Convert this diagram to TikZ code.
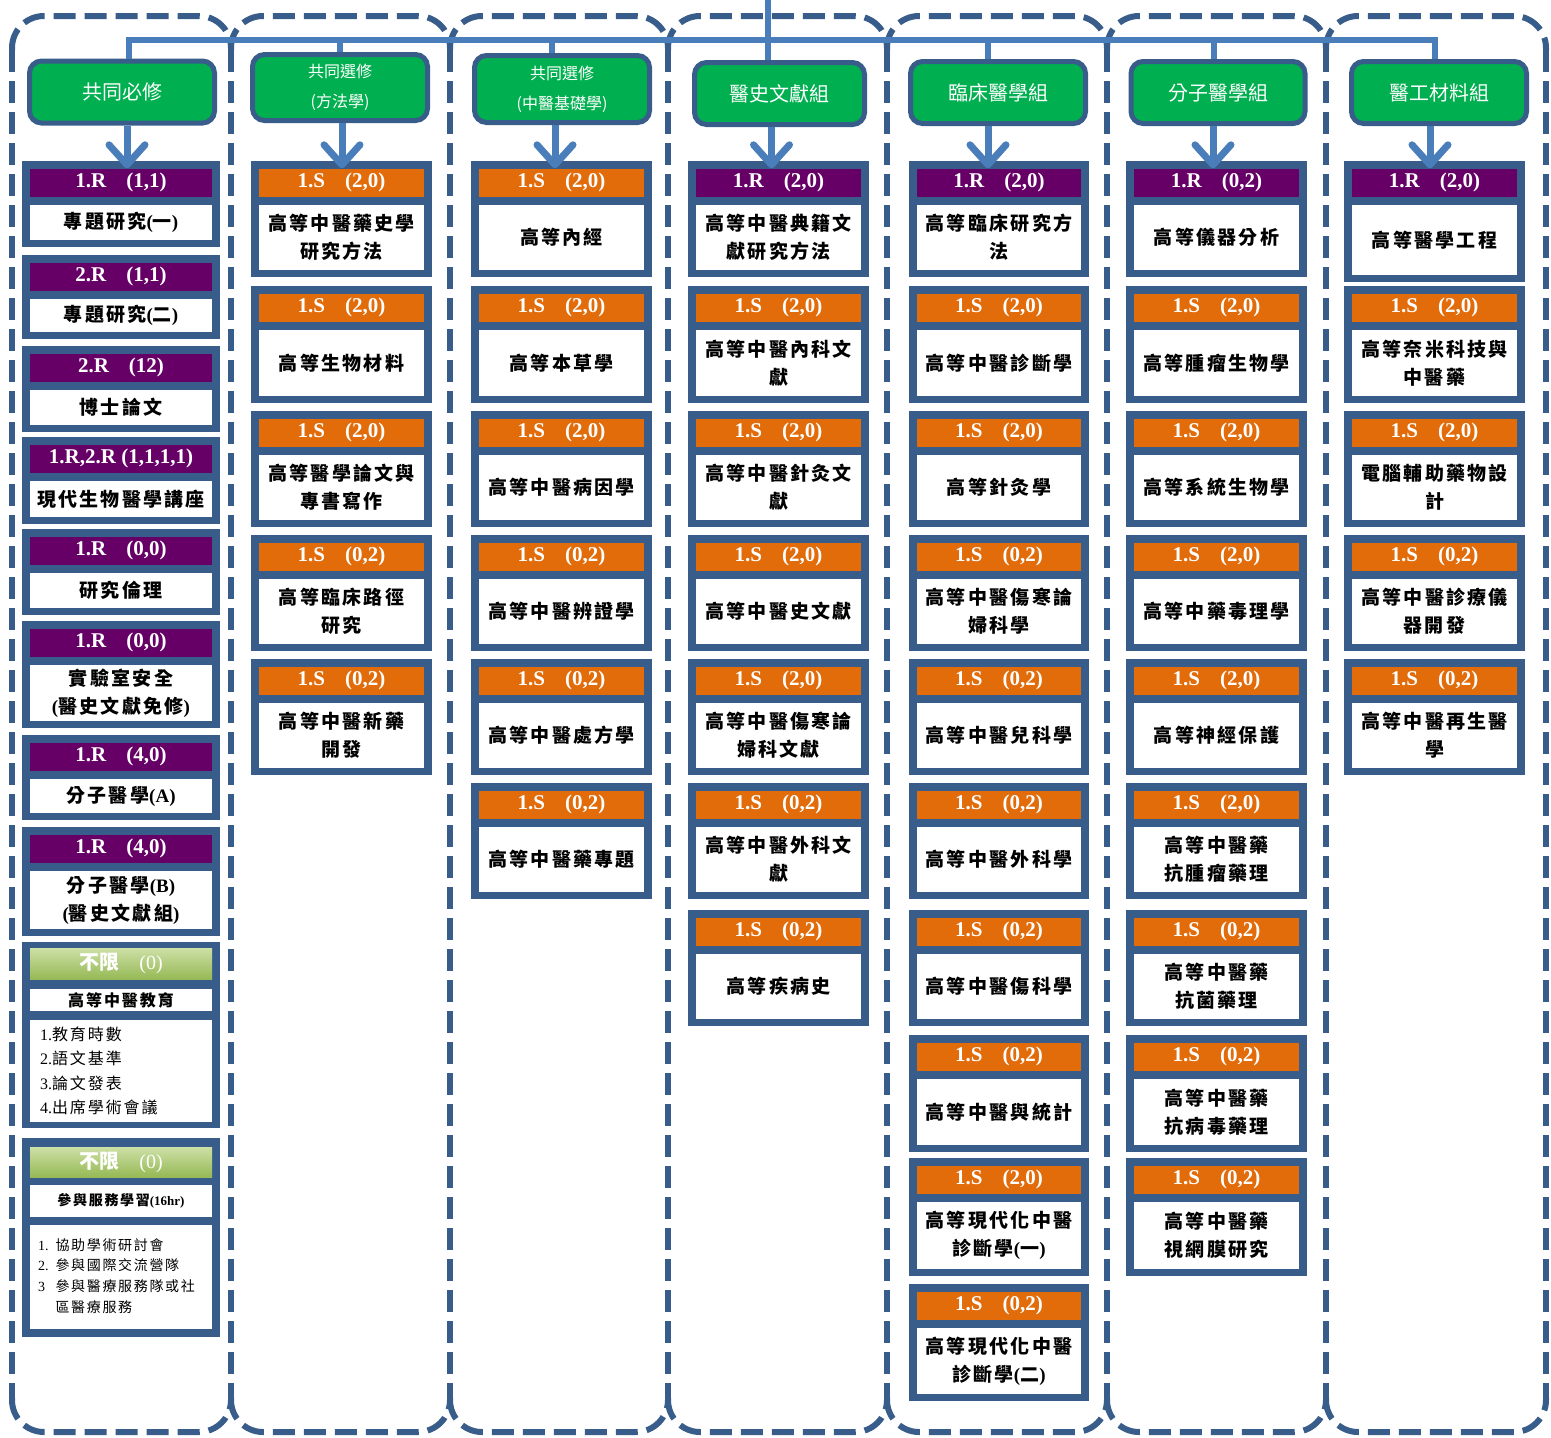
\documentclass[tikz,border=0pt]{standalone}
\usepackage{fontspec}
\setmainfont{Liberation Serif}
\newfontfamily\cjk[LetterSpace=12]{Noto Sans CJK TC}
\newfontfamily\cjkh{Noto Sans CJK TC}
\usetikzlibrary{arrows.meta}
\definecolor{navy}{RGB}{56,93,138}
\definecolor{busblue}{RGB}{74,126,187}
\definecolor{hgreen}{RGB}{0,176,80}
\definecolor{rpurple}{RGB}{102,0,102}
\definecolor{sorange}{RGB}{226,107,10}
\definecolor{glight}{RGB}{205,224,166}
\definecolor{gdark}{RGB}{150,185,85}
\newcommand{\cgap}{\hspace{20pt}}
\newcommand{\lat}[1]{{\rmfamily #1}}
\tikzset{
	lane/.style={draw=navy,line width=6pt,dash pattern=on 22pt off 9pt,rounded corners=32pt},
	bus/.style={draw=busblue,line width=6pt},
	flow/.style={draw=busblue,line width=7pt,-{Straight Barb[length=20pt,width=36pt,round]}},
	hdr/.style 2 args={rectangle,rounded corners=12pt,fill=hgreen,draw=navy,line width=5pt,text=white,inner sep=0pt,align=center,minimum width=#1,minimum height=#2,font=\cjkh\fontsize{20}{24}\selectfont},
	hdrtwo/.style={font=\cjkh\fontsize{16}{30}\selectfont},
	cframe/.style={rectangle,fill=navy,inner sep=0pt},
	rbar/.style={rectangle,fill=rpurple,text=white,inner sep=0pt,font=\bfseries\fontsize{21}{24}\selectfont},
	sbar/.style={rbar,fill=sorange},
	gbar/.style={rectangle,top color=glight,bottom color=gdark,text=white,inner sep=0pt,font=\fontsize{20}{24}\selectfont},
	body/.style={rectangle,fill=white,inner sep=0pt,align=center,font=\cjk\bfseries\fontsize{19}{28}\selectfont},
	lst/.style={inner sep=0pt,align=left,anchor=west}
}
% one course card: name, left, right, top, bottom, bar style, bar text, title
\newcommand{\course}[8]{%
	\node[cframe,minimum width={#3-#2},minimum height={#5-#4}] (#1) at ({(#2+#3)/2},{(#4+#5)/2}) {};
	\node[#6,minimum width={#3-#2-16},minimum height=28] (#1-bar) at ({(#2+#3)/2},{#4+21.5}) {#7};
	\node[body,minimum width={#3-#2-16},minimum height={#5-#4-51}] (#1-body) at ({(#2+#3)/2},{(#4+#5+37)/2}) {#8};
}

\begin{document}
\begin{tikzpicture}[x=1pt,y=-1pt]
	\useasboundingbox (0,0) rectangle (1551,1438);

	% dashed lanes
	\draw[lane] (12,50) |- (231,16) -- (231,50) (231,50) |- (450,16) -- (450,50) (450,50) |- (668,16) -- (668,50)
		(668,50) |- (887,16) -- (887,50) (887,50) |- (1107,16) -- (1107,50) (1107,50) |- (1326,16) -- (1326,50) (1326,50) |- (1546,16) -- (1546,50);
	\draw[lane] (12,1398) |- (231,1432) -- (231,1398) (231,1398) |- (450,1432) -- (450,1398) (450,1398) |- (668,1432) -- (668,1398)
		(668,1398) |- (887,1432) -- (887,1398) (887,1398) |- (1107,1432) -- (1107,1398) (1107,1398) |- (1326,1432) -- (1326,1398) (1326,1398) |- (1546,1432) -- (1546,1398);
	\draw[lane] (12,50) -- (12,1398) (231,50) -- (231,1398) (450,50) -- (450,1398) (668,50) -- (668,1398)
		(887,50) -- (887,1398) (1107,50) -- (1107,1398) (1326,50) -- (1326,1398) (1546,50) -- (1546,1398);

	% group headers
	\node[hdr={185pt}{62pt}] (hd1) at (122,92) {共同必修};
	\node[hdr={175pt}{66pt},hdrtwo] (hd2) at (340,87.5) {共同選修\\(方法學)};
	\node[hdr={175pt}{67pt},hdrtwo] (hd3) at (562,89) {共同選修\\(中醫基礎學)};
	\node[hdr={170pt}{62pt}] (hd4) at (779.5,93.5) {醫史文獻組};
	\node[hdr={175pt}{62pt}] (hd5) at (998,92.5) {臨床醫學組};
	\node[hdr={174pt}{62pt}] (hd6) at (1218,92.5) {分子醫學組};
	\node[hdr={175pt}{62pt}] (hd7) at (1439,92.5) {醫工材料組};

	% bus
	\coordinate (b1) at (129,40);
	\coordinate (b2) at (340,40);
	\coordinate (b3) at (552,40);
	\coordinate (b5) at (988,40);
	\coordinate (b6) at (1214,40);
	\coordinate (b7) at (1435,40);
	\coordinate (feed) at (768,0);
	\draw[bus] (b1 |- hd1.north) -- (b1) -- (b7) -- (b7 |- hd7.north);
	\draw[bus] (b2) -- (b2 |- hd2.north);
	\draw[bus] (b3) -- (b3 |- hd3.north);
	\draw[bus] (feed) -- (feed |- hd4.north);
	\draw[bus] (b5) -- (b5 |- hd5.north);
	\draw[bus] (b6) -- (b6 |- hd6.north);

	% column 1
	\course{c1a}{22}{220}{161}{247}{rbar}{1.R\cgap(1,1)}{專題研究\lat{(}一\lat{)}}
	\course{c1b}{22}{220}{255}{339}{rbar}{2.R\cgap(1,1)}{專題研究\lat{(}二\lat{)}}
	\course{c1c}{22}{220}{346}{432}{rbar}{2.R\cgap(12)}{博士論文}
	\course{c1d}{22}{220}{437}{524}{rbar}{1.R,2.R (1,1,1,1)}{現代生物醫學講座}
	\course{c1e}{22}{220}{529}{615}{rbar}{1.R\cgap(0,0)}{研究倫理}
	\course{c1f}{22}{220}{621}{728}{rbar}{1.R\cgap(0,0)}{實驗室安全\\\lat{(}醫史文獻免修\lat{)}}
	\course{c1g}{22}{220}{735}{820}{rbar}{1.R\cgap(4,0)}{分子醫學\lat{(A)}}
	\course{c1h}{22}{220}{827}{936}{rbar}{1.R\cgap(4,0)}{分子醫學\lat{(B)}\\\lat{(}醫史文獻組\lat{)}}

	\node[cframe,minimum width=198,minimum height=186] (c1i) at (121,1035) {};
	\node[gbar,minimum width=182,minimum height=31] (c1i-bar) at (121,963.5) {{\cjkh\bfseries 不限}\cgap(0)};
	\node[body,minimum width=182,minimum height=22,font=\cjk\bfseries\fontsize{16}{20}\selectfont] (c1i-body) at (121,1000) {高等中醫教育};
	\node[body,minimum width=182,minimum height=102] (c1i-list) at (121,1071) {};
	\node[lst,font=\cjk\fontsize{16}{24.5}\selectfont] (edulist) at ([xshift=10pt]c1i-list.west)
		{\lat{1.}教育時數\\\lat{2.}語文基準\\\lat{3.}論文發表\\\lat{4.}出席學術會議};

	\node[cframe,minimum width=198,minimum height=199] (c1j) at (121,1237.5) {};
	\node[gbar,minimum width=182,minimum height=30] (c1j-bar) at (121,1162) {{\cjkh\bfseries 不限}\cgap(0)};
	\node[body,minimum width=182,minimum height=32,font=\cjk\bfseries\fontsize{14}{18}\selectfont] (c1j-body) at (121,1201) {參與服務學習{\rmfamily\fontsize{13}{16}\selectfont(16hr)}};
	\node[body,minimum width=182,minimum height=104] (c1j-list) at (121,1277) {};
	\node[lst,font=\cjk\fontsize{14}{20.7}\selectfont] (servlist) at ([xshift=8pt]c1j-list.west)
		{\begin{tabular}{@{}l@{\hspace{7pt}}l@{}}\lat{1.} & 協助學術研討會\\ \lat{2.} & 參與國際交流營隊\\ \lat{3} & 參與醫療服務隊或社\\ & 區醫療服務\end{tabular}};

	% column 2
	\course{c2a}{251}{432}{161}{277}{sbar}{1.S\cgap(2,0)}{高等中醫藥史學\\研究方法}
	\course{c2b}{251}{432}{286}{403}{sbar}{1.S\cgap(2,0)}{高等生物材料}
	\course{c2c}{251}{432}{411}{527}{sbar}{1.S\cgap(2,0)}{高等醫學論文與\\專書寫作}
	\course{c2d}{251}{432}{535}{651}{sbar}{1.S\cgap(0,2)}{高等臨床路徑\\研究}
	\course{c2e}{251}{432}{659}{775}{sbar}{1.S\cgap(0,2)}{高等中醫新藥\\開發}

	% column 3
	\course{c3a}{471}{652}{161}{277}{sbar}{1.S\cgap(2,0)}{高等內經}
	\course{c3b}{471}{652}{286}{403}{sbar}{1.S\cgap(2,0)}{高等本草學}
	\course{c3c}{471}{652}{411}{527}{sbar}{1.S\cgap(2,0)}{高等中醫病因學}
	\course{c3d}{471}{652}{535}{651}{sbar}{1.S\cgap(0,2)}{高等中醫辨證學}
	\course{c3e}{471}{652}{659}{775}{sbar}{1.S\cgap(0,2)}{高等中醫處方學}
	\course{c3f}{471}{652}{783}{899}{sbar}{1.S\cgap(0,2)}{高等中醫藥專題}

	% column 4
	\course{c4a}{688}{869}{161}{277}{rbar}{1.R\cgap(2,0)}{高等中醫典籍文\\獻研究方法}
	\course{c4b}{688}{869}{286}{403}{sbar}{1.S\cgap(2,0)}{高等中醫內科文\\獻}
	\course{c4c}{688}{869}{411}{527}{sbar}{1.S\cgap(2,0)}{高等中醫針灸文\\獻}
	\course{c4d}{688}{869}{535}{651}{sbar}{1.S\cgap(2,0)}{高等中醫史文獻}
	\course{c4e}{688}{869}{659}{775}{sbar}{1.S\cgap(2,0)}{高等中醫傷寒論\\婦科文獻}
	\course{c4f}{688}{869}{783}{899}{sbar}{1.S\cgap(0,2)}{高等中醫外科文\\獻}
	\course{c4g}{688}{869}{910}{1026}{sbar}{1.S\cgap(0,2)}{高等疾病史}

	% column 5
	\course{c5a}{909}{1089}{161}{277}{rbar}{1.R\cgap(2,0)}{高等臨床研究方\\法}
	\course{c5b}{909}{1089}{286}{403}{sbar}{1.S\cgap(2,0)}{高等中醫診斷學}
	\course{c5c}{909}{1089}{411}{527}{sbar}{1.S\cgap(2,0)}{高等針灸學}
	\course{c5d}{909}{1089}{535}{651}{sbar}{1.S\cgap(0,2)}{高等中醫傷寒論\\婦科學}
	\course{c5e}{909}{1089}{659}{775}{sbar}{1.S\cgap(0,2)}{高等中醫兒科學}
	\course{c5f}{909}{1089}{783}{899}{sbar}{1.S\cgap(0,2)}{高等中醫外科學}
	\course{c5g}{909}{1089}{910}{1026}{sbar}{1.S\cgap(0,2)}{高等中醫傷科學}
	\course{c5h}{909}{1089}{1035}{1152}{sbar}{1.S\cgap(0,2)}{高等中醫與統計}
	\course{c5i}{909}{1089}{1158}{1276}{sbar}{1.S\cgap(2,0)}{高等現代化中醫\\診斷學\lat{(}一\lat{)}}
	\course{c5j}{909}{1089}{1284}{1401}{sbar}{1.S\cgap(0,2)}{高等現代化中醫\\診斷學\lat{(}二\lat{)}}

	% column 6
	\course{c6a}{1126}{1307}{161}{277}{rbar}{1.R\cgap(0,2)}{高等儀器分析}
	\course{c6b}{1126}{1307}{286}{403}{sbar}{1.S\cgap(2,0)}{高等腫瘤生物學}
	\course{c6c}{1126}{1307}{411}{527}{sbar}{1.S\cgap(2,0)}{高等系統生物學}
	\course{c6d}{1126}{1307}{535}{651}{sbar}{1.S\cgap(2,0)}{高等中藥毒理學}
	\course{c6e}{1126}{1307}{659}{775}{sbar}{1.S\cgap(2,0)}{高等神經保護}
	\course{c6f}{1126}{1307}{783}{899}{sbar}{1.S\cgap(2,0)}{高等中醫藥\\抗腫瘤藥理}
	\course{c6g}{1126}{1307}{910}{1026}{sbar}{1.S\cgap(0,2)}{高等中醫藥\\抗菌藥理}
	\course{c6h}{1126}{1307}{1035}{1152}{sbar}{1.S\cgap(0,2)}{高等中醫藥\\抗病毒藥理}
	\course{c6i}{1126}{1307}{1158}{1276}{sbar}{1.S\cgap(0,2)}{高等中醫藥\\視網膜研究}

	% column 7
	\course{c7a}{1344}{1525}{161}{282}{rbar}{1.R\cgap(2,0)}{高等醫學工程}
	\course{c7b}{1344}{1525}{286}{403}{sbar}{1.S\cgap(2,0)}{高等奈米科技與\\中醫藥}
	\course{c7c}{1344}{1525}{411}{527}{sbar}{1.S\cgap(2,0)}{電腦輔助藥物設\\計}
	\course{c7d}{1344}{1525}{535}{651}{sbar}{1.S\cgap(0,2)}{高等中醫診療儀\\器開發}
	\course{c7e}{1344}{1525}{659}{775}{sbar}{1.S\cgap(0,2)}{高等中醫再生醫\\學}

	% arrows
	\coordinate (a1) at ([xshift=5pt]hd1.south);
	\coordinate (a2) at ([xshift=2pt]hd2.south);
	\coordinate (a3) at ([xshift=-7pt]hd3.south);
	\coordinate (a4) at ([xshift=-8pt]hd4.south);
	\coordinate (a5) at ([xshift=-10pt]hd5.south);
	\coordinate (a6) at ([xshift=-5pt]hd6.south);
	\coordinate (a7) at ([xshift=-9pt]hd7.south);
	\draw[flow] (a1) -- (a1 |- c1a-bar.north);
	\draw[flow] (a2) -- (a2 |- c2a-bar.north);
	\draw[flow] (a3) -- (a3 |- c3a-bar.north);
	\draw[flow] (a4) -- (a4 |- c4a-bar.north);
	\draw[flow] (a5) -- (a5 |- c5a-bar.north);
	\draw[flow] (a6) -- (a6 |- c6a-bar.north);
	\draw[flow] (a7) -- (a7 |- c7a-bar.north);
\end{tikzpicture}
\end{document}
